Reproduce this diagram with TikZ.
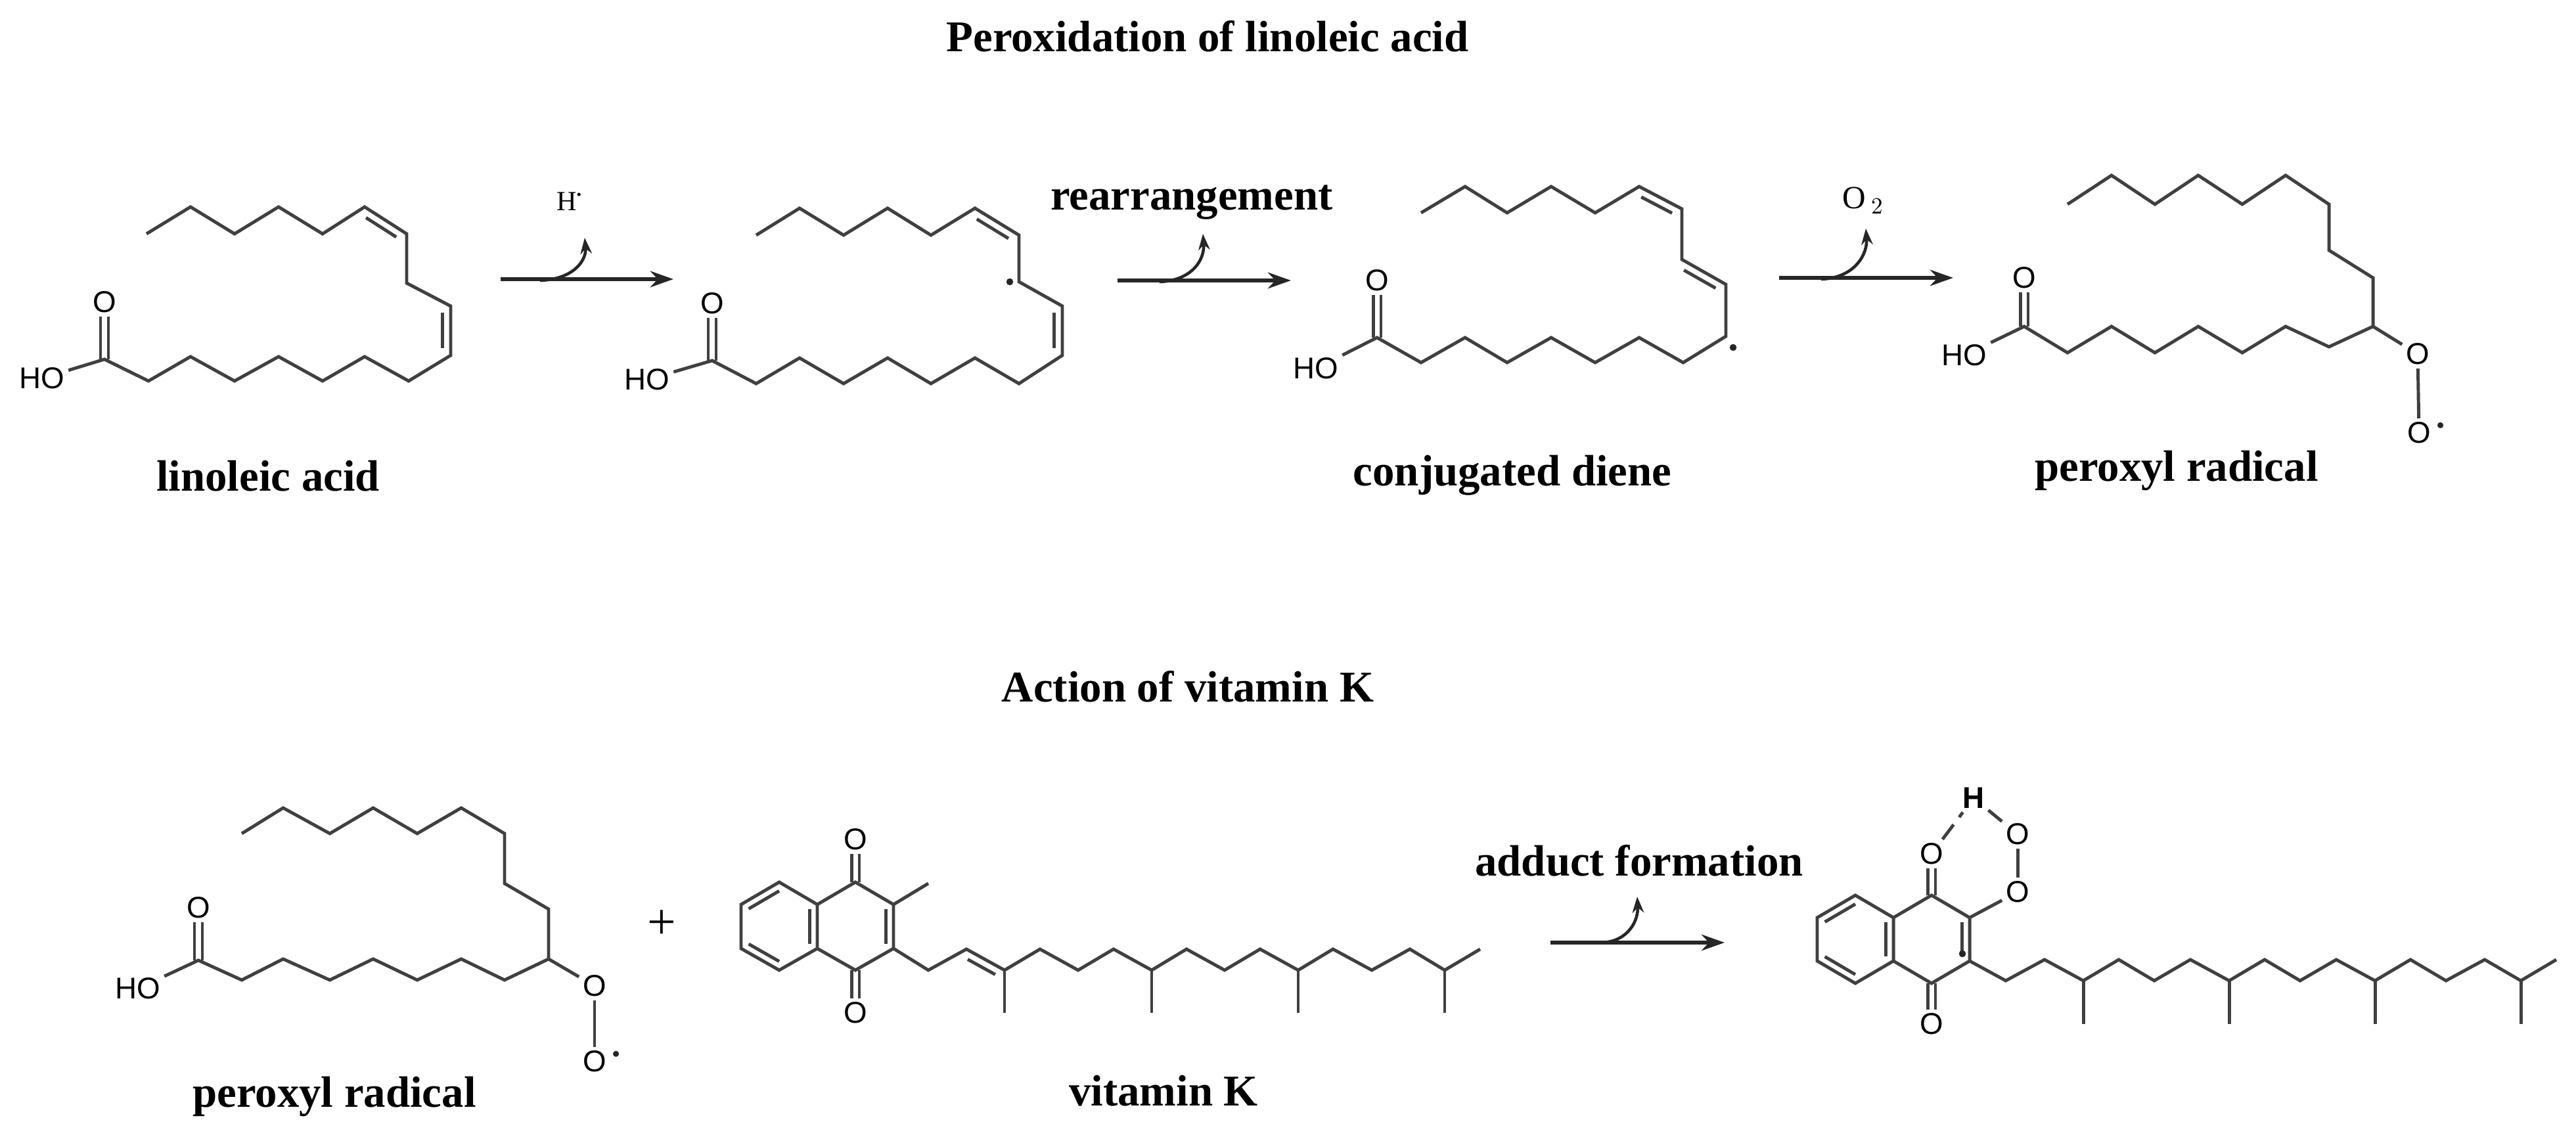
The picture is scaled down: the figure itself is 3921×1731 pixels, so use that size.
\documentclass[tikz,border=0pt]{standalone}
\usepackage{fontspec}
\setmainfont{Liberation Serif}
\newfontfamily\atomfont{Liberation Sans}
\usetikzlibrary{calc,arrows.meta}
\newcommand\dbond[3]{\draw[bond] ($(#1)!0.14!(#2)!#3!90:(#2)$) -- ($(#2)!0.14!(#1)!#3!-90:(#1)$);}
\newcommand\inb[3]{\draw[bond] ($(#1)!0.2!(#3)$) -- ($(#2)!0.2!(#3)$);}
\newcommand\vdb[2]{\draw[bond] ([xshift=-1.7pt]#1) -- ([xshift=-1.7pt]#2) ([xshift=1.7pt]#1) -- ([xshift=1.7pt]#2);}
\newcommand\rdot[1]{\fill[black!85] (#1) circle (1.5pt);}
\begin{document}
\begin{tikzpicture}[x=0.01cm,y=-0.01cm,
  bond/.style={draw=black!75,line width=1.4pt,line join=miter},
  atom/.style={font=\atomfont\fontsize{13}{14}\selectfont,inner sep=1.5pt,text=black},
  lab/.style={font=\bfseries\fontsize{19}{21}\selectfont,inner sep=0pt},
  rxn/.style={draw=black!85,line width=1.6pt,-{Stealth[length=10pt,width=7pt]}},
  hookarr/.style={draw=black!85,line width=1.3pt,-{Stealth[length=7pt,width=5pt]}}]
\useasboundingbox (0,0) rectangle (3921,1731);

% titles
\node[lab] (t1) at (1838,55) {Peroxidation of linoleic acid};
\node[lab] (t2) at (1808,1045) {Action of vitamin K};

% ---------- linoleic acid
\coordinate (l1c) at (159,547);
\node[atom] (l1o) at (159,460) {O};
\node[atom] (l1ho) at (64,576) {HO};
\draw[bond] (223,356)--(290,315)--(357,356)--(424,315)--(491,356)--(555,315)--(619,356)--(619,431)--(686,466)--(686,541)--(622,580)--(555,543)--(491,580)--(424,543)--(357,580)--(290,543)--(226,580)--(l1c)--(l1ho);
\vdb{l1c}{l1o.south}
\dbond{555,315}{619,356}{-3.6pt}
\dbond{686,466}{686,541}{-3.6pt}
\node[lab] (n1) at (408,725) {linoleic acid};

% arrow 1
\coordinate (a1s) at (762,425); \coordinate (a1e) at (1025,425);
\coordinate (h1s) at (822,427); \coordinate (h1e) at (890,362);
\draw[rxn] (a1s) -- (a1e);
\draw[hookarr] (h1s) .. controls (875,425) and (893,395) .. (h1e);
\node[font=\fontsize{12}{13}\selectfont] (hdot) at (866,307) {H\raisebox{0.9ex}{\scalebox{0.5}{\textbullet}}};

% ---------- radical intermediate
\coordinate (l2c) at (1084,549);
\node[atom] (l2o) at (1084,462) {O};
\node[atom] (l2ho) at (985,578) {HO};
\draw[bond] (1151,358)--(1217,317)--(1284,358)--(1351,317)--(1417,358)--(1484,317)--(1551,358)--(1551,429)--(1617,466)--(1617,541)--(1551,584)--(1484,545)--(1417,584)--(1351,545)--(1284,584)--(1217,545)--(1151,584)--(l2c)--(l2ho);
\vdb{l2c}{l2o.south}
\dbond{1484,317}{1551,358}{-3.6pt}
\dbond{1617,466}{1617,541}{-3.6pt}
\rdot{1537,429}

% arrow 2
\coordinate (a2s) at (1701,427); \coordinate (a2e) at (1965,427);
\coordinate (h2s) at (1765,429); \coordinate (h2e) at (1831,356);
\draw[rxn] (a2s) -- (a2e);
\draw[hookarr] (h2s) .. controls (1815,427) and (1834,395) .. (h2e);
\node[lab] (rl) at (1814,308) {rearrangement};

% ---------- conjugated diene
\coordinate (l3c) at (2096,514);
\node[atom] (l3o) at (2096,427) {O};
\node[atom] (l3ho) at (2003,561) {HO};
\draw[bond] (2163,324)--(2230,284)--(2294,324)--(2361,284)--(2428,324)--(2495,284)--(2560,318)--(2560,395)--(2627,433)--(2627,512)--(2562,552)--(2495,514)--(2428,552)--(2361,514)--(2294,552)--(2230,514)--(2163,552)--(l3c)--(l3ho);
\vdb{l3c}{l3o.south}
\dbond{2495,284}{2560,318}{-3.6pt}
\dbond{2560,395}{2627,433}{-3.6pt}
\rdot{2638,529}
\node[lab] (n3) at (2302,724) {conjugated diene};

% arrow 3
\coordinate (a3s) at (2708,423); \coordinate (a3e) at (2973,423);
\coordinate (h3s) at (2772,425); \coordinate (h3e) at (2840,348);
\draw[rxn] (a3s) -- (a3e);
\draw[hookarr] (h3s) .. controls (2825,423) and (2843,385) .. (h3e);
\node[font=\fontsize{14}{15}\selectfont] (o2) at (2836,305) {O\,$_2$};

% ---------- peroxyl radical (top)
\coordinate (l4c) at (3081,497);
\coordinate (l4ch) at (3612,497);
\node[atom] (l4o) at (3081,423) {O};
\node[atom] (l4ho) at (2990,541) {HO};
\node[atom] (l4oa) at (3680,539) {O};
\node[atom] (l4ob) at (3682,659) {O};
\fill[black!85] ([shift={(2.5pt,-3pt)}]l4ob.north east) circle (1.3pt);
\draw[bond] (3147,311)--(3214,267)--(3280,311)--(3346,267)--(3413,311)--(3479,267)--(3545,311)--(3545,381)--(3612,423)--(l4ch)--(3545,528)--(3479,497)--(3413,537)--(3346,497)--(3280,537)--(3214,497)--(3147,537)--(l4c)--(l4ho);
\vdb{l4c}{l4o.south}
\draw[bond] (l4ch) -- (l4oa);
\draw[bond] (l4oa) -- (l4ob);
\node[lab] (n4) at (3313,717) {peroxyl radical};

% ---------- peroxyl radical (bottom)
\coordinate (p1c) at (302,1462);
\coordinate (p1ch) at (835,1460);
\node[atom] (p1o) at (302,1382) {O};
\node[atom] (p1ho) at (210,1505) {HO};
\node[atom] (p1oa) at (905,1501) {O};
\node[atom] (p1ob) at (905,1616) {O};
\fill[black!85] ([shift={(2.5pt,-3pt)}]p1ob.north east) circle (1.3pt);
\draw[bond] (368,1269)--(431,1230)--(502,1269)--(568,1230)--(635,1269)--(702,1230)--(768,1269)--(768,1345)--(835,1384)--(p1ch)--(768,1492)--(702,1460)--(635,1492)--(568,1460)--(502,1492)--(431,1460)--(368,1492)--(p1c)--(p1ho);
\vdb{p1c}{p1o.south}
\draw[bond] (p1ch) -- (p1oa);
\draw[bond] (p1oa) -- (p1ob);
\node[lab] (n5) at (509,1670) {peroxyl radical};
\node[font=\fontsize{22}{24}\selectfont] (plus) at (1007,1408) {+};

% ---------- vitamin K
\coordinate (vL) at (1186,1410); \coordinate (vR) at (1302,1410);
\coordinate (v1) at (1186,1343); \coordinate (v2) at (1244,1377); \coordinate (v3) at (1244,1444);
\coordinate (v4) at (1186,1477); \coordinate (v5) at (1128,1444); \coordinate (v6) at (1128,1377);
\coordinate (v7) at (1302,1343); \coordinate (v8) at (1360,1377); \coordinate (v9) at (1360,1444);
\coordinate (v10) at (1302,1477);
\node[atom] (vo1) at (1302,1278) {O};
\node[atom] (vo2) at (1302,1542) {O};
\draw[bond] (v1)--(v2)--(v3)--(v4)--(v5)--(v6)--cycle;
\draw[bond] (v2)--(v7)--(v8)--(v9)--(v10)--(v3);
\inb{v6}{v1}{vL} \inb{v5}{v4}{vL} \inb{v2}{v3}{vL} \inb{v8}{v9}{vR}
\vdb{v7}{vo1.south}
\vdb{v10}{vo2.north}
\draw[bond] (v8)--(1413,1345);
\draw[bond] (v9)--(1413,1477)--(1471,1445)--(1529,1477)--(1583,1445)--(1641,1477)--(1695,1445)--(1753,1477)--(1806,1445)--(1864,1477)--(1918,1445)--(1976,1477)--(2029,1445)--(2088,1477)--(2146,1445)--(2199,1477)--(2253,1445);
\dbond{1471,1445}{1529,1477}{-3.6pt}
\draw[bond] (1529,1477)--(1529,1542) (1753,1477)--(1753,1542) (1976,1477)--(1976,1542) (2199,1477)--(2199,1542);
\node[lab] (n6) at (1771,1661) {vitamin K};

% arrow 4
\coordinate (a4s) at (2360,1435); \coordinate (a4e) at (2625,1435);
\coordinate (h4s) at (2440,1435); \coordinate (h4e) at (2492,1365);
\draw[rxn] (a4s) -- (a4e);
\draw[hookarr] (h4s) .. controls (2480,1432) and (2494,1400) .. (h4e);
\node[lab] (n7) at (2495,1310) {adduct formation};

% ---------- adduct
\coordinate (pL) at (2824,1430); \coordinate (pR) at (2940,1430);
\coordinate (q1) at (2824,1363); \coordinate (q2) at (2882,1397); \coordinate (q3) at (2882,1463);
\coordinate (q4) at (2824,1497); \coordinate (q5) at (2766,1463); \coordinate (q6) at (2766,1397);
\coordinate (q7) at (2940,1363); \coordinate (q8) at (2998,1397); \coordinate (q9) at (2998,1463);
\coordinate (q10) at (2940,1497);
\node[atom] (qo1) at (2940,1300) {O};
\node[atom] (qo2) at (2940,1559) {O};
\node[atom,font=\atomfont\bfseries\fontsize{13}{14}\selectfont] (qh) at (3004,1215) {H};
\node[atom] (qoa) at (3071,1270) {O};
\node[atom] (qob) at (3071,1358) {O};
\draw[bond] (q1)--(q2)--(q3)--(q4)--(q5)--(q6)--cycle;
\draw[bond] (q2)--(q7)--(q8)--(q9)--(q10)--(q3);
\inb{q6}{q1}{pL} \inb{q5}{q4}{pL} \inb{q2}{q3}{pL} \inb{q8}{q9}{pR}
\vdb{q7}{qo1.south}
\vdb{q10}{qo2.north}
\draw[bond,dash pattern=on 8pt off 4pt] (qo1) -- (qh);
\draw[bond] (qh) -- (qoa);
\draw[bond] (qoa) -- (qob);
\draw[bond] (qob) -- (q8);
\rdot{2987,1452}
\draw[bond] (q9)--(3053,1493)--(3112,1461)--(3171,1493)--(3225,1461)--(3279,1493)--(3334,1461)--(3393,1493)--(3447,1461)--(3501,1493)--(3556,1461)--(3615,1493)--(3669,1461)--(3723,1493)--(3782,1461)--(3837,1493)--(3891,1461);
\draw[bond] (3171,1493)--(3171,1559) (3393,1493)--(3393,1559) (3615,1493)--(3615,1559) (3837,1493)--(3837,1559);
\end{tikzpicture}
\end{document}
